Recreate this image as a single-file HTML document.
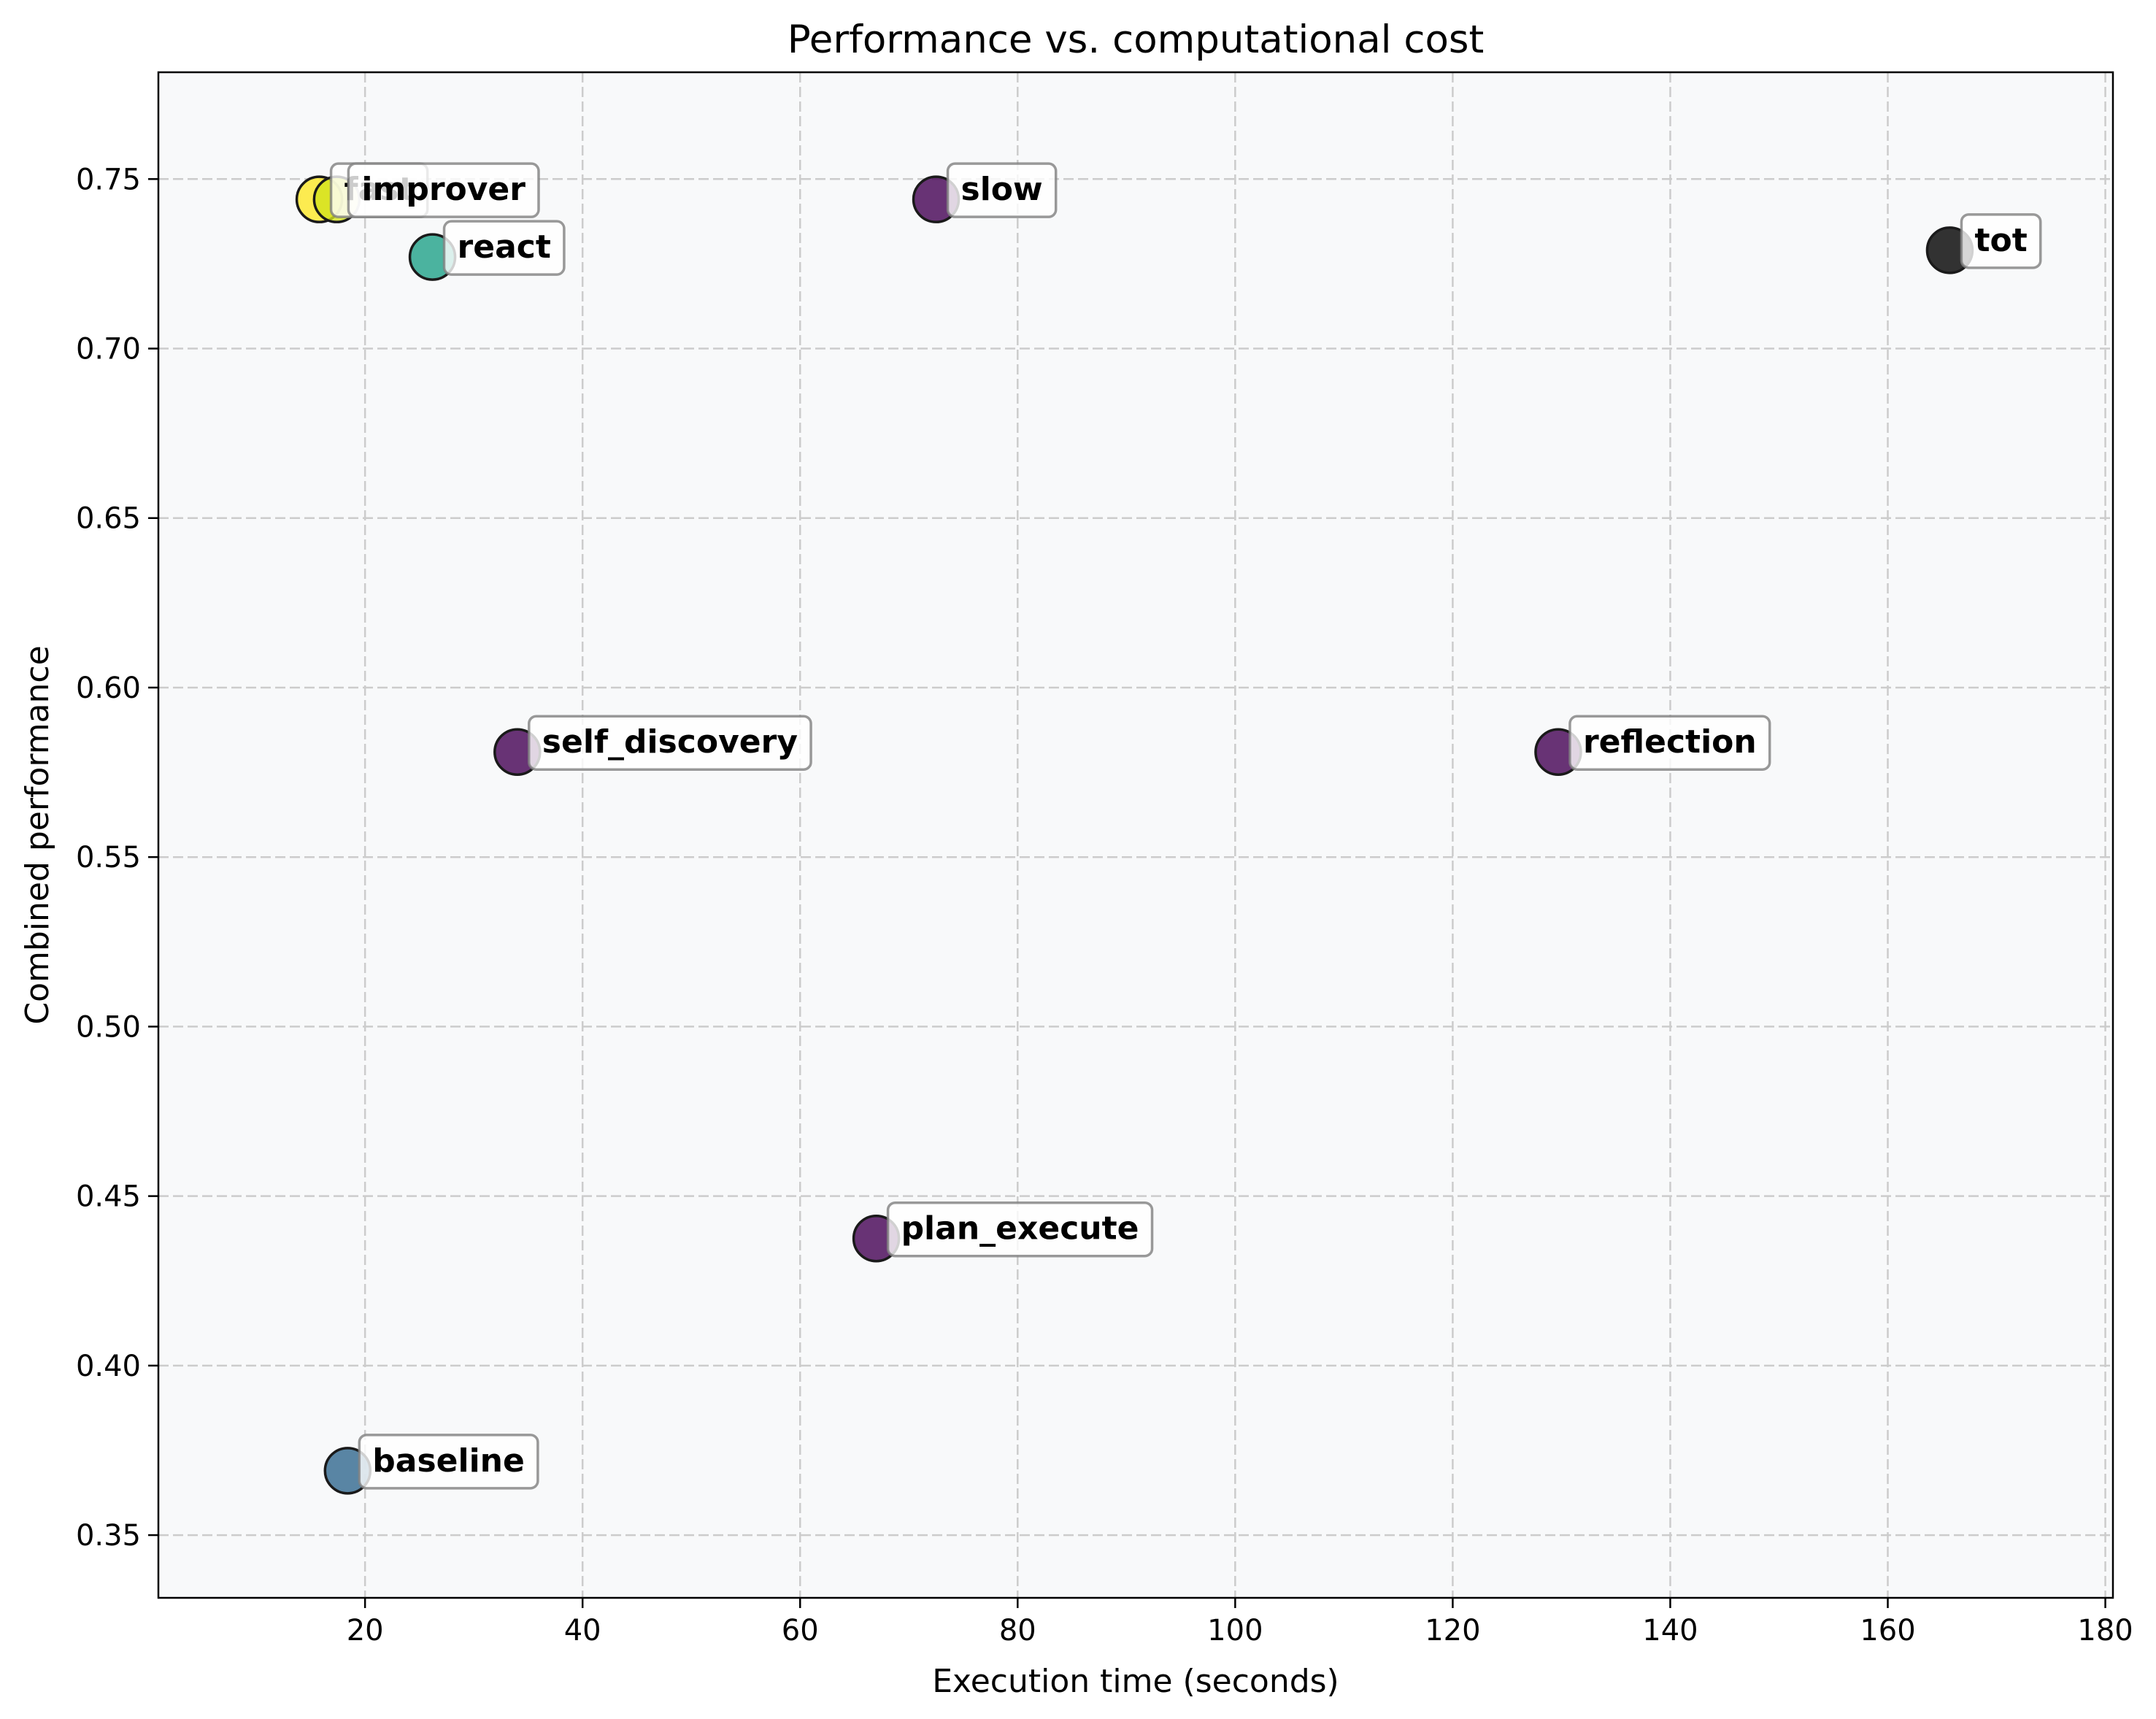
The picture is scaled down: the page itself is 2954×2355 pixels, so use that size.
<!DOCTYPE html>
<html><head><meta charset="utf-8"><style>
html,body{margin:0;padding:0;background:#fff}
svg{display:block}
text{font-family:"DejaVu Sans","Liberation Sans",sans-serif}
</style></head><body>
<svg id="chart" width="2954" height="2355" xmlns="http://www.w3.org/2000/svg">
<rect x="0" y="0" width="2954" height="2355" fill="#ffffff"/>
<rect x="217" y="99" width="2678" height="2090" fill="#f8f9fa"/>
<g id="grid"></g>
<g id="ticks"></g>
<g id="points"></g>
<g id="labels"></g>
<rect x="217" y="99" width="2678" height="2090" fill="none" stroke="#000" stroke-width="2.5"/>
<text x="1556" y="72" font-size="53" text-anchor="middle">Performance vs. computational cost</text>
<text x="1556" y="2318" font-size="44" text-anchor="middle">Execution time (seconds)</text>
<text x="66" y="1144" font-size="44" text-anchor="middle" transform="rotate(-90 66 1144)">Combined performance</text>
</svg>
<script>
const names = ["fast","improver","react","slow","tot","self_discovery","reflection","plan_execute","baseline"];
const execTimes = [15.8,17.4,26.2,72.5,165.7,34,129.7,67,18.4];
const perf = [0.744,0.744,0.727,0.744,0.729,0.581,0.581,0.4375,0.369];
const colors = ["#fde725","#d2e21b","#1fa188","#440154","#000000","#440154","#440154","#440154","#31688e"];
const xTicks = [20,40,60,80,100,120,140,160,180];
const yTicks = [0.35,0.40,0.45,0.50,0.55,0.60,0.65,0.70,0.75];

const L=217,R=2895,T=99,B=2189;
const X0=1.0, X1=180.7;
const Y0=0.3315, Y1=0.7815;
const sx=v=>L+(v-X0)/(X1-X0)*(R-L);
const sy=v=>B-(v-Y0)/(Y1-Y0)*(B-T);
const NS="http://www.w3.org/2000/svg";
function mk(tag,attrs,parent){const e=document.createElementNS(NS,tag);for(const k in attrs)e.setAttribute(k,attrs[k]);parent.appendChild(e);return e;}
const grid=document.getElementById('grid'),ticks=document.getElementById('ticks');
xTicks.forEach(v=>{
  const x=sx(v);
  const g=mk('line',{x1:x,x2:x,y1:T,y2:B,stroke:'#cccccc','stroke-width':2.5,'stroke-dasharray':'14,6'},grid);
  
  
  const t=mk('line',{x1:x,x2:x,y1:B,y2:B+14,stroke:'#000','stroke-width':2.5},ticks);
  
  
  const l=mk('text',{x:x,y:B+58,'font-size':40,'text-anchor':'middle'},ticks);
  l.textContent=String(v);
  
  
});
yTicks.forEach(v=>{
  const y=sy(v);
  const g=mk('line',{x1:L,x2:R,y1:y,y2:y,stroke:'#cccccc','stroke-width':2.5,'stroke-dasharray':'14,6'},grid);
  
  
  const t=mk('line',{x1:L-14,x2:L,y1:y,y2:y,stroke:'#000','stroke-width':2.5},ticks);
  
  
  const l=mk('text',{x:L-24,y:y+14,'font-size':40,'text-anchor':'end'},ticks);
  l.textContent=v.toFixed(2);
  
  
});
const pts=document.getElementById('points'),labs=document.getElementById('labels');
names.forEach((n,i)=>{
  const cx=sx(execTimes[i]),cy=sy(perf[i]);
  const c=mk('ellipse',{cx:cx,cy:cy,rx:31,ry:31,fill:colors[i],'fill-opacity':0.8,stroke:'#1a1a1a','stroke-width':3.5},pts);
  
  
});
names.forEach((n,i)=>{
  const cx=sx(execTimes[i]),cy=sy(perf[i]);
  const g=mk('g',{},labs);
  
  
  const r=mk('rect',{x:cx+16,y:cy-49,height:73,width:100,rx:10,fill:'#ffffff','fill-opacity':0.8,stroke:'#808080','stroke-opacity':0.8,'stroke-width':3.5},g);
  const t=mk('text',{x:cx+34,y:cy+1,'font-size':44,'font-weight':'bold'},g);
  t.textContent=n;
  const w=t.getComputedTextLength();
  r.setAttribute('width',w+36);
});
</script>
</body></html>
